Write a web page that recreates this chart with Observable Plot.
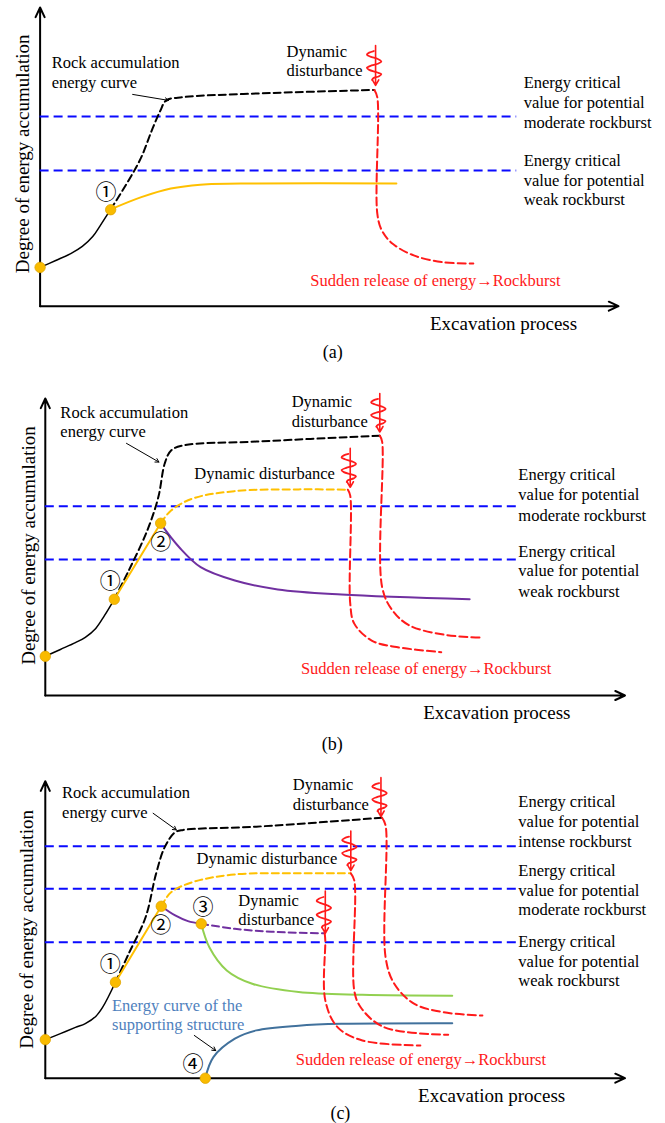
<!DOCTYPE html>
<html><head><meta charset="utf-8">
<script src="https://cdn.jsdelivr.net/npm/d3@7"></script>
<script src="https://cdn.jsdelivr.net/npm/@observablehq/plot@0.6"></script>
<style>
body{margin:0;background:#fff;}
#fig svg{display:block;}
</style></head>
<body><div id="fig"></div>
<script>
// ---------- shared text ----------
const yTitle = "Degree of energy accumulation";
const xTitle = "Excavation process";
const releaseText = "Sudden release of energy→Rockburst";
// squiggle glyph: [fraction along length, x offset]
const squiggleShape = [[0.14,-0.3],[0.18,-1.1],[0.23,-1.5],[0.28,-0.9],[0.34,0.4],[0.4,1.0],[0.45,0.5],[0.5,-0.7],[0.56,-1.5],[0.61,-1.1],[0.67,0.2],[0.72,1.0],[0.77,0.6],[0.82,-0.4],[0.86,-0.6]];

// ---------- panel (a) ----------
const aRockSolid = [[0,13],[2.7,15.3],[5.3,17.6],[7.3,20],[9.1,23.3],[10.4,27],[12.2,32.4]];
const aRockDashed = [[12.2,32.4],[15.3,42.1],[17.5,49.9],[19.3,58.8],[20.8,65.5],[21.8,68.9],[24.8,70],[37.4,71.2],[57.8,72.4]];
const aOrangeSolid = [[12.2,32.4],[17.5,36.5],[22.6,39.4],[27.7,40.7],[37.4,41.1],[61.6,41.1]];
const aRelease = [[[57.8,72.4],[58.3,69.9],[58.3,31],[59.1,25.3],[60.9,21],[64.6,17],[69.7,14.7],[74.9,14.3]]];
const aCritical = [63.5, 45.4];
const aDots = [[0,13],[12.2,32.3]];
const aNums = [["①",11.4,38.2]];
const aSquiggles = [[58.0,87.3,73.9]];
const aLeaders = [[16,70.9,22.2,68.9]];
const aTexts = [["Rock accumulation",2.0,79.6],["energy curve",2.0,72.9],["Dynamic",42.6,83.3],["disturbance",42.6,76.9],
  ["Energy critical",83.6,72.9],["value for potential",83.6,66.2],["moderate rockburst",83.6,59.5],
  ["Energy critical",83.6,47.1],["value for potential",83.6,40.4],["weak rockburst",83.6,34]];
const aRed = [46.7,6.6];
const aXTitle = [67.4,-8.1];
const aYTitle = [-3.0,51];
const aCaption = ["(a)",50.6,-17.2];

// ---------- panel (b) ----------
const bRockSolid = [[0,13.2],[2.6,15.5],[5.2,17.8],[6.9,19.6],[8.7,22.6],[10.2,26.9],[11.9,32.4]];
const bRockDashed = [[11.9,32.4],[14.4,42.1],[17.6,55.6],[19.5,66.8],[20.6,78.1],[21.7,82.5],[23.8,84.2],[36.4,85.5],[57.7,87.5]];
const bOrangeSolid = [[11.9,32.4],[19.9,58]];
const bOrangeDashed = [[19.9,58],[21.7,62.3],[25.4,66.3],[32.6,68.8],[43.7,69.4],[52.2,69.3]];
const bPurple = [[20,57.6],[23.1,49.9],[26.8,43.2],[32.7,38.7],[40.1,35.7],[51.1,34],[73.2,32.4]];
const bRelease = [
  [[52.2,69.3],[52.6,67.3],[52.6,31],[53.3,24.2],[56.3,18.5],[60.6,16.3],[68.3,14.6]],
  [[57.7,87.5],[58.1,85.5],[58.1,36.5],[59.9,28.6],[62.8,23.6],[68.7,20.5],[75,19.5]]];
const bCritical = [63.7, 45.8];
const bDots = [[0,13.2],[11.9,32.4],[19.9,58]];
const bNums = [["①",11.2,38.5],["②",19.9,51.6]];
const bSquiggles = [[57.7,101.7,88.7],[52.6,83.2,70.1]];
const bLeaders = [[14,84.9,19.6,78.6]];
const bTexts = [["Rock accumulation",2.6,93.5],["energy curve",2.6,87],["Dynamic",42.5,97.1],["disturbance",42.5,90.3],
  ["Dynamic disturbance",25.7,73],
  ["Energy critical",81.6,72.4],["value for potential",81.6,65.7],["moderate rockburst",81.6,58.9],
  ["Energy critical",81.6,46.8],["value for potential",81.6,40.1],["weak rockburst",81.6,33.3]];
const bRed = [44.1,7.3];
const bXTitle = [65.2,-7.8];
const bYTitle = [-2.9,50.5];
const bCaption = ["(b)",49.5,-18.5];

// ---------- panel (c) ----------
const cRockSolid = [[0,13],[2.6,15],[5.2,17.1],[6.9,18.4],[8.7,20.8],[9.9,23.9],[10.9,27.5],[12.1,32.3]];
const cRockDashed = [[12.1,32.3],[14.4,42],[17.3,54.2],[19.1,68.8],[20.6,77.8],[22.4,82.8],[23.8,83.6],[36.4,84.7],[58.1,87.7]];
const cOrangeSolid = [[12.1,32.3],[20,57.9]];
const cOrangeDashed = [[20,57.9],[21.7,62.6],[25.4,66],[32.6,68.6],[43.7,69],[52.7,69]];
const cPurpleSolid = [[20,57.9],[22.4,54.8],[24.6,52.9],[26.9,52]];
const cPurpleDashed = [[26.9,52],[32.7,50.3],[40.1,49.2],[48.2,48.8]];
const cGreen = [[26.9,52],[28.3,44.1],[31.3,36.3],[35.7,31.8],[43.7,29],[54.7,28.1],[70.2,27.8]];
const cSupport = [[27.6,0],[29,7.1],[32.7,13.3],[36.4,16.1],[43.7,17.7],[51.1,18.3],[70.2,18.5]];
const cRelease = [
  [[48.2,48.8],[48.3,46.4],[48.3,26.2],[50.4,17.2],[54.7,12.7],[64.7,11]],
  [[52.7,69],[53.3,66.6],[53.3,29.5],[54.4,23.9],[58.4,17.2],[69.5,14.6]],
  [[58.1,87.7],[58.7,85.1],[58.7,40.7],[60.2,31.8],[63.6,25.1],[68.7,22.2],[75.4,21.1]]];
const cCritical = [78.1, 63.8, 45.8];
const cDots = [[0,13],[12.1,32.3],[20,57.9],[26.9,52],[27.6,0]];
const cNums = [["①",11.2,38.5],["②",19.9,51.6],["③",27.2,57.4],["④",25.5,4.6]];
const cSquiggles = [[57.9,101.2,88.1],[52.7,83.2,69.9],[48.3,63,48.8]];
const cLeaders = [[18.6,89.2,22.6,83.6],[25.7,14.4,29.4,9.3]];
const cTexts = [["Rock accumulation",2.9,94.4],["energy curve",2.9,87.7],["Dynamic",42.7,97.1],["disturbance",42.7,90.4],
  ["Dynamic disturbance",26.1,72],["Dynamic",33.3,58.1],["disturbance",33.3,51.6],
  ["Energy critical",81.6,91.2],["value for potential",81.6,84.5],["intense rockburst",81.6,78],
  ["Energy critical",81.6,68.2],["value for potential",81.6,61.5],["moderate rockburst",81.6,54.8],
  ["Energy critical",81.6,44.3],["value for potential",81.6,37.6],["weak rockburst",81.6,30.9]];
const cBlueTexts = [["Energy curve of the",11.5,22.6],["supporting structure",11.5,16.1]];
const cRed = [43.2,4.3];
const cXTitle = [64.3,-8.1];
const cYTitle = [-3.2,50.1];
const cCaption = ["(c)",50.9,-13.6];

// ---------- drawing ----------
const FONT = "'Liberation Serif','Times New Roman','DejaVu Serif',serif";
const NUMFONT = "'Noto Sans CJK SC','DejaVu Sans',sans-serif";
const ORANGE = "#ffc000", BLUE = "#0a0aff", RED = "#ff1a1a", PURPLE = "#7030a0", GREEN = "#92d050", STEEL = "#41719c";
const px = d => d[0], py = d => d[1];
const lineOpts = (stroke, w, dash) => ({x: px, y: py, curve: "catmull-rom", stroke, strokeWidth: w, strokeDasharray: dash});

function squigglePts(s) {
  const [u, top, tip] = s;
  return squiggleShape.map(([f, dx]) => [u + dx, top - f * (top - tip)]);
}

function panel(cfg) {
  const marks = [];
  marks.push(Plot.arrow([[0,0,100,0],[0,0,0,100]], {x1: d=>d[0], y1: d=>d[1], x2: d=>d[2], y2: d=>d[3], stroke: "black", strokeWidth: 2, headLength: 8, headAngle: 50}));
  marks.push(Plot.ruleY(cfg.critical, {x1: 0, x2: cfg.critEnd, stroke: BLUE, strokeWidth: 2, strokeDasharray: "9,5"}));
  for (const l of cfg.lines) marks.push(Plot.line(l.data, lineOpts(l.stroke, l.w, l.dash)));
  for (const r of cfg.release) marks.push(Plot.line(r, lineOpts(RED, 2, "8,4")));
  marks.push(Plot.arrow(cfg.squiggles, {x1: d=>d[0], y1: d=>d[1], x2: d=>d[0], y2: d=>d[2], stroke: RED, strokeWidth: 1.6, headLength: 6}));
  for (const s of cfg.squiggles) marks.push(Plot.line(squigglePts(s), {x: px, y: py, curve: "catmull-rom", stroke: RED, strokeWidth: 1.8}));
  marks.push(Plot.arrow(cfg.leaders, {x1: d=>d[0], y1: d=>d[1], x2: d=>d[2], y2: d=>d[3], stroke: "black", strokeWidth: 1, headLength: 6}));
  marks.push(Plot.dot(cfg.dots, {x: px, y: py, r: 5.2, fill: "#f9bb00", stroke: "#e0a500", strokeWidth: 0.8}));
  if (cfg.blueTexts) marks.push(Plot.text(cfg.blueTexts, {x: d=>d[1], y: d=>d[2], text: d=>d[0], textAnchor: "start", lineAnchor: "bottom", fill: "#4f81bd", stroke: "white", strokeWidth: 4, fontSize: 16.5}));
  marks.push(Plot.text(cfg.texts, {x: d=>d[1], y: d=>d[2], text: d=>d[0], textAnchor: "start", lineAnchor: "bottom", fill: "black", fontSize: 16.5}));
  marks.push(Plot.text(cfg.nums, {x: d=>d[1], y: d=>d[2], text: d=>d[0], fill: "black", fontSize: 21, fontFamily: NUMFONT}));
  marks.push(Plot.text([releaseText], {x: cfg.red[0], y: cfg.red[1], text: d=>d, textAnchor: "start", lineAnchor: "bottom", fill: RED, fontSize: 16.5}));
  marks.push(Plot.text([xTitle], {x: cfg.xTitle[0], y: cfg.xTitle[1], text: d=>d, textAnchor: "start", lineAnchor: "bottom", fill: "black", fontSize: 19}));
  marks.push(Plot.text([yTitle], {x: cfg.yTitle[0], y: cfg.yTitle[1], text: d=>d, rotate: -90, fill: "black", fontSize: 19}));
  marks.push(Plot.text([cfg.caption], {x: d=>d[1], y: d=>d[2], text: d=>d[0], lineAnchor: "bottom", fill: "black", fontSize: 18}));
  return Plot.plot({
    width: 665, height: cfg.height,
    marginLeft: cfg.m[0], marginRight: cfg.m[1], marginTop: cfg.m[2], marginBottom: cfg.m[3],
    x: {domain: [0, 100], axis: null},
    y: {domain: [0, 100], axis: null},
    style: {fontFamily: FONT, background: "white", overflow: "visible"},
    marks
  });
}

const fig = document.getElementById("fig");
fig.append(panel({
  height: 370, m: [39.6, 47, 7, 64.3], critical: aCritical, critEnd: 82.4,
  lines: [
    {data: aRockSolid, stroke: "black", w: 1.5},
    {data: aRockDashed, stroke: "black", w: 2, dash: "7,4"},
    {data: aOrangeSolid, stroke: ORANGE, w: 2}],
  release: aRelease, squiggles: aSquiggles, leaders: aLeaders, dots: aDots, nums: aNums,
  texts: aTexts, red: aRed, xTitle: aXTitle, yTitle: aYTitle, caption: aCaption
}));
fig.append(panel({
  height: 370, m: [44.8, 40.5, 28, 45], critical: bCritical, critEnd: 81.3,
  lines: [
    {data: bRockSolid, stroke: "black", w: 1.5},
    {data: bRockDashed, stroke: "black", w: 2, dash: "7,4"},
    {data: bOrangeDashed, stroke: ORANGE, w: 2, dash: "7,4"},
    {data: bPurple, stroke: PURPLE, w: 2},
    {data: bOrangeSolid, stroke: ORANGE, w: 2}],
  release: bRelease, squiggles: bSquiggles, leaders: bLeaders, dots: bDots, nums: bNums,
  texts: bTexts, red: bRed, xTitle: bXTitle, yTitle: bYTitle, caption: bCaption
}));
fig.append(panel({
  height: 383, m: [44.8, 40.5, 40.7, 45.3], critical: cCritical, critEnd: 81.3,
  lines: [
    {data: cRockSolid, stroke: "black", w: 1.5},
    {data: cRockDashed, stroke: "black", w: 2, dash: "7,4"},
    {data: cOrangeDashed, stroke: ORANGE, w: 2, dash: "7,4"},
    {data: cPurpleSolid, stroke: PURPLE, w: 2},
    {data: cPurpleDashed, stroke: PURPLE, w: 2, dash: "7,4"},
    {data: cGreen, stroke: GREEN, w: 2},
    {data: cSupport, stroke: STEEL, w: 2},
    {data: cOrangeSolid, stroke: ORANGE, w: 2}],
  release: cRelease, squiggles: cSquiggles, leaders: cLeaders, dots: cDots, nums: cNums,
  texts: cTexts, blueTexts: cBlueTexts, red: cRed, xTitle: cXTitle, yTitle: cYTitle, caption: cCaption
}));
</script></body></html>
